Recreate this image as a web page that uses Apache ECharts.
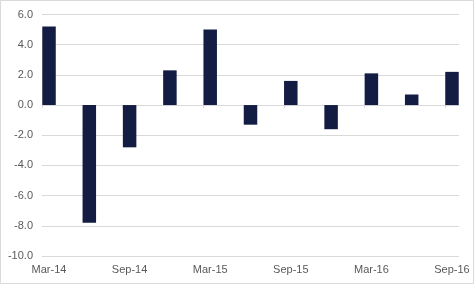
<!DOCTYPE html>
<html>
<head>
<meta charset="utf-8">
<script src="https://cdn.jsdelivr.net/npm/echarts@6/dist/echarts.min.js"></script>
<style>
html,body{margin:0;padding:0;background:#fff;}
#chart{width:474px;height:284px;}
</style>
</head>
<body>
<div id="chart"></div>
<script>
const categories = ['Mar-14','Jun-14','Sep-14','Dec-14','Mar-15','Jun-15','Sep-15','Dec-15','Mar-16','Jun-16','Sep-16'];
const values = [5.2, -7.8, -2.8, 2.3, 5.0, -1.3, 1.6, -1.6, 2.1, 0.7, 2.2];
const labelIndices = [0, 2, 4, 6, 8, 10];
const yMin = -10, yMax = 6, yStep = 2;

const pad = 0.174;
const xMin = -pad, xMax = categories.length - 1 + pad;

const chart = echarts.init(document.getElementById('chart'), null, {renderer: 'canvas'});
chart.setOption({
  animation: false,
  backgroundColor: '#fff',
  graphic: [{
    type: 'rect', silent: true, z: 100,
    shape: {x: 0.5, y: 0.5, width: 473, height: 283},
    style: {fill: 'none', stroke: '#d9d9d9', lineWidth: 1}
  }],
  grid: {left: 42, right: 15, top: 14.5, bottom: 28},
  xAxis: [{
    type: 'value', min: xMin, max: xMax, position: 'bottom',
    axisLine: {show: true, onZero: true, lineStyle: {color: '#d9d9d9', width: 1}},
    axisTick: {show: true, length: 3, lineStyle: {color: '#d9d9d9'}, customValues: labelIndices.map(i => i - pad)},
    axisLabel: {show: false},
    splitLine: {show: false}
  }, {
    type: 'value', min: xMin, max: xMax, position: 'bottom',
    axisLine: {show: false, onZero: false},
    axisTick: {show: false},
    splitLine: {show: false},
    axisLabel: {
      show: true, margin: 8, color: '#595959', fontSize: 11, fontFamily: 'Liberation Sans, Arial, sans-serif',
      customValues: labelIndices,
      formatter: v => categories[Math.round(v)] || ''
    }
  }],
  yAxis: {
    type: 'value', min: yMin, max: yMax, interval: yStep,
    axisLine: {show: false}, axisTick: {show: false},
    axisLabel: {margin: 9, color: '#595959', fontSize: 11, fontFamily: 'Liberation Sans, Arial, sans-serif',
      formatter: v => v.toFixed(1)},
    splitLine: {lineStyle: {color: '#d9d9d9', width: 1}}
  },
  series: [{
    type: 'bar', xAxisIndex: 0, barWidth: 13.5,
    itemStyle: {color: '#131c43'},
    data: values.map((v, i) => [i, v])
  }]
});
</script>
</body>
</html>
